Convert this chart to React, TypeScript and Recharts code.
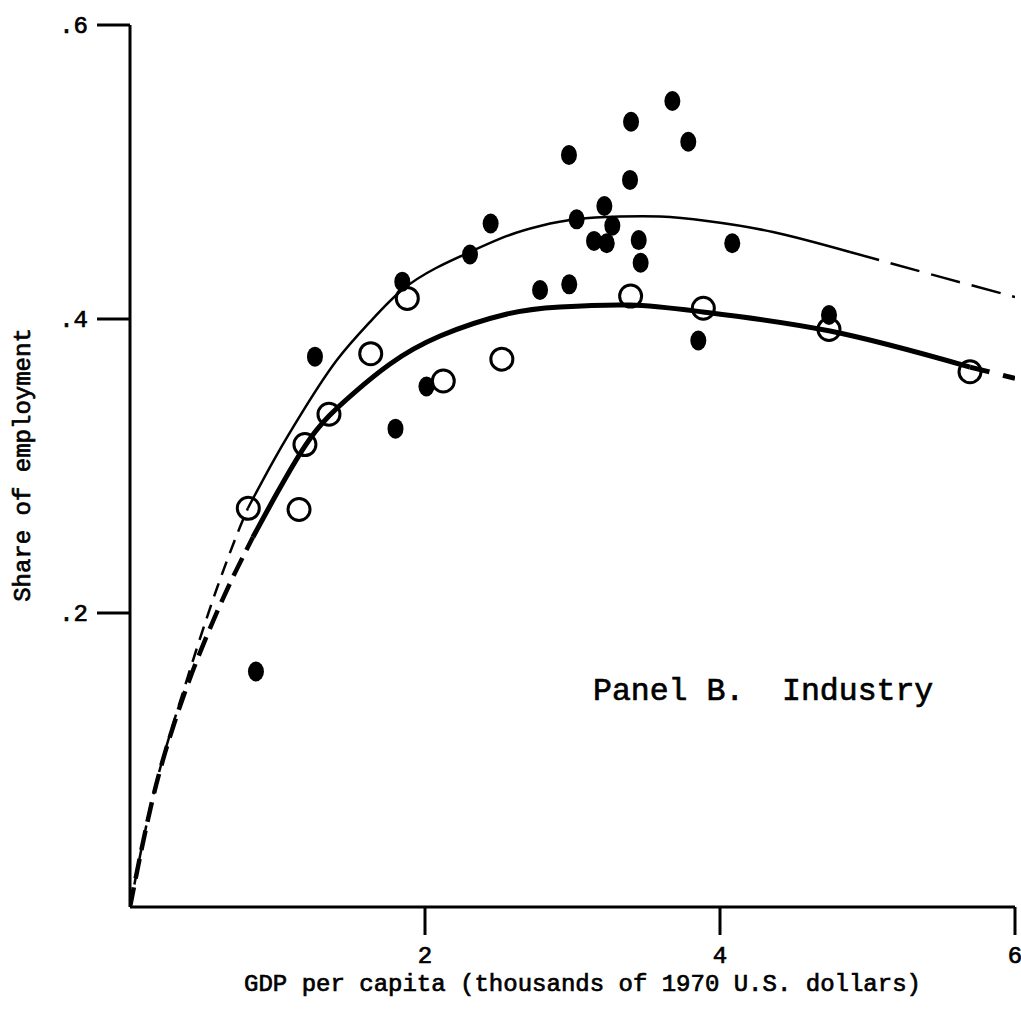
import React from "react";
import { ComposedChart, XAxis, YAxis, Line, Scatter } from "recharts";

// ---- data (GDP per capita in thousands of 1970 US$, share of employment) ----
const filledX = [0.854, 1.254, 1.846, 1.8, 2.01, 2.305, 2.445, 2.78, 2.976, 2.978, 3.028, 3.146, 3.216, 3.232, 3.27, 3.397, 3.39, 3.449, 3.462, 3.677, 3.785, 3.853, 4.083, 4.739];
const filledY = [0.1602, 0.3744, 0.4254, 0.3254, 0.3541, 0.4439, 0.465, 0.4197, 0.5116, 0.4236, 0.4678, 0.4531, 0.4769, 0.4515, 0.4635, 0.5342, 0.4946, 0.4537, 0.4383, 0.5483, 0.5206, 0.3854, 0.4515, 0.4027];

const openX = [0.802, 1.146, 1.186, 1.349, 1.632, 1.88, 2.124, 2.521, 3.394, 3.887, 4.739, 5.695];
const openY = [0.2712, 0.2704, 0.3146, 0.3352, 0.3764, 0.414, 0.3578, 0.3727, 0.4156, 0.4073, 0.3929, 0.3641];

// thin curve (fit to filled points)
const thinLowX = [0, 0.15, 0.3, 0.45, 0.59, 0.72, 0.8];
const thinLowY = [0, 0.073, 0.127, 0.175, 0.217, 0.252, 0.2714];
const thinMidX = [0.8, 0.983, 1.186, 1.403, 1.627, 1.844, 2.075, 2.305, 2.556, 2.78, 3.031, 3.322, 3.593, 3.912, 4.359, 4.881];
const thinMidY = [0.2714, 0.3054, 0.3395, 0.3721, 0.398, 0.4197, 0.4347, 0.4456, 0.4565, 0.4633, 0.468, 0.4697, 0.4697, 0.4667, 0.4592, 0.4456];
const thinHighX = [4.881, 5.5, 6.0];
const thinHighY = [0.4456, 0.4285, 0.415];

// thick curve (fit to open points)
const thickLowX = [0, 0.15, 0.3, 0.45, 0.6, 0.72, 0.834];
const thickLowY = [0, 0.072, 0.125, 0.167, 0.203, 0.229, 0.2517];
const thickMidX = [0.834, 0.997, 1.186, 1.349, 1.525, 1.763, 2.102, 2.556, 2.915, 3.39, 3.885, 4.746, 5.695];
const thickMidY = [0.2517, 0.2816, 0.3136, 0.334, 0.3503, 0.3694, 0.3884, 0.4034, 0.4082, 0.4095, 0.4048, 0.3918, 0.3673];
const thickHighX = [5.695, 6.0];
const thickHighY = [0.3673, 0.3596];

const xTicks = [2, 4, 6];
const yTicks = [0.2, 0.4, 0.6];
const xTitle = "GDP per capita (thousands of 1970 U.S. dollars)";
const yTitle = "Share of employment";
const panelTitle = "Panel B.  Industry";

const zip = (xs: number[], ys: number[]) => xs.map((x, i) => ({ x, y: ys[i] }));

const FONT = "'Liberation Mono', 'DejaVu Sans Mono', monospace";
const TXT = { fontFamily: FONT, fill: "#000", stroke: "#000", strokeWidth: 0.7 };

const FilledDot = (p: any) => <ellipse cx={p.cx} cy={p.cy} rx={8} ry={10} fill="#000" />;
const OpenDot = (p: any) => <circle cx={p.cx} cy={p.cy} r={11} fill="none" stroke="#000" strokeWidth={3} />;

const XTick = (p: any) => (
  <text x={p.x} y={p.y} dy={28} textAnchor="middle" fontSize={24} {...TXT}>
    {p.payload.value}
  </text>
);
const YTick = (p: any) => (
  <text x={p.x} y={p.y} dy="0.35em" textAnchor="end" fontSize={24} {...TXT}>
    {String(p.payload.value).replace(/^0/, "")}
  </text>
);

export default function App() {
  return (
    <div style={{ position: "absolute", left: 0, top: 0, background: "#fff" }}>
      <ComposedChart width={1021} height={1011} margin={{ top: 25, right: 6, left: 60, bottom: 44 }}>
        <XAxis
          type="number"
          dataKey="x"
          domain={[0, 6]}
          ticks={xTicks}
          allowDataOverflow
          height={60}
          axisLine={{ stroke: "#000", strokeWidth: 3 }}
          tickLine={{ stroke: "#000", strokeWidth: 3 }}
          tickSize={28}
          tickMargin={0}
          tick={<XTick />}
          label={{
            content: (lp: any) => {
              const vb = lp.viewBox;
              return (
                <text x={vb.x + vb.width / 2 + 10} y={991} textAnchor="middle" fontSize={24} {...TXT}>
                  {xTitle}
                </text>
              );
            },
          }}
        />
        <YAxis
          type="number"
          dataKey="y"
          domain={[0, 0.6]}
          ticks={yTicks}
          allowDataOverflow
          width={70}
          axisLine={{ stroke: "#000", strokeWidth: 3 }}
          tickLine={{ stroke: "#000", strokeWidth: 3 }}
          tickSize={33}
          tickMargin={9}
          tick={<YTick />}
          label={{
            content: () => {
              const cy = 465;
              return (
                <text x={30} y={cy} transform={`rotate(-90 30 ${cy})`} textAnchor="middle" fontSize={24} {...TXT}>
                  {yTitle}
                </text>
              );
            },
          }}
        />
        <Line data={zip(thinLowX, thinLowY)} dataKey="y" type="natural" stroke="#000" strokeWidth={2.5} strokeDasharray="14 9" dot={false} isAnimationActive={false} />
        <Line data={zip(thinMidX, thinMidY)} dataKey="y" type="natural" stroke="#000" strokeWidth={2.5} dot={false} isAnimationActive={false} />
        <Line data={zip(thinHighX, thinHighY)} dataKey="y" type="natural" stroke="#000" strokeWidth={2.5} strokeDasharray="30 12" dot={false} isAnimationActive={false} />
        <Line data={zip(thickLowX, thickLowY)} dataKey="y" type="natural" stroke="#000" strokeWidth={4.5} strokeDasharray="20 9" dot={false} isAnimationActive={false} />
        <Line data={zip(thickMidX, thickMidY)} dataKey="y" type="natural" stroke="#000" strokeWidth={5} dot={false} isAnimationActive={false} />
        <Line data={zip(thickHighX, thickHighY)} dataKey="y" type="natural" stroke="#000" strokeWidth={5} strokeDasharray="20 14" dot={false} isAnimationActive={false} />
        <Scatter data={zip(filledX, filledY)} dataKey="y" shape={<FilledDot />} isAnimationActive={false} />
        <Scatter data={zip(openX, openY)} dataKey="y" shape={<OpenDot />} isAnimationActive={false} />
        <text x={593} y={700} fontSize={31.5} style={{ whiteSpace: "pre" }} {...TXT}>
          {panelTitle}
        </text>
      </ComposedChart>
    </div>
  );
}
